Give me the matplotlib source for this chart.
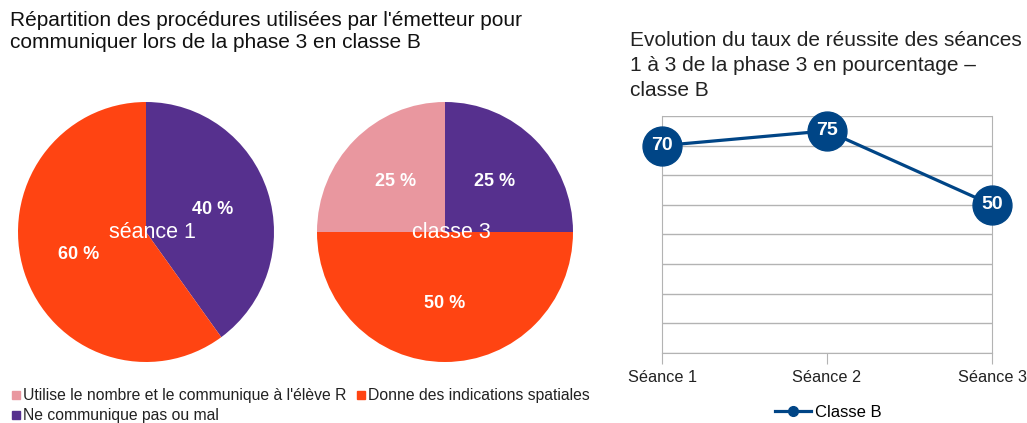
import matplotlib
matplotlib.use("Agg")
import matplotlib.pyplot as plt

plt.rcParams['font.family'] = ['Liberation Sans', 'DejaVu Sans']

# pie data (order: purple, orange, pink; clockwise from top)
pie_labels = ["Ne communique pas ou mal",
              "Donne des indications spatiales",
              "Utilise le nombre et le communique à l'élève R"]
seance1 = [40, 60, 0]
seance3 = [25, 50, 25]
pie_names = ["séance 1", "classe 3"]
pie_colors = ["#56308e", "#ff4412", "#e9979f"]

# line data
seances = ["Séance 1", "Séance 2", "Séance 3"]
taux = [70, 75, 50]
line_color = "#004586"

W, H = 1027, 423
fig = plt.figure(figsize=(W / 100, H / 100), dpi=100)


def px_axes(left, top, width, height):
    return fig.add_axes([left / W, (H - top - height) / H, width / W, height / H])


fig.text(10 / W, 1 - 11 / H,
         "Répartition des procédures utilisées par l'émetteur pour\ncommuniquer lors de la phase 3 en classe B",
         ha='left', va='top', fontsize=15, color='#111111', linespacing=1.2)

pie_pos = [(18, 102), (317, 102)]
for (left, top), vals, name in zip(pie_pos, [seance1, seance3], pie_names):
    ax = px_axes(left, top, 256, 260)
    wedges, texts, autotexts = ax.pie(
        vals, colors=pie_colors, startangle=90, counterclock=False, radius=1,
        autopct=lambda p: "%d %%" % round(p) if p > 0 else "",
        pctdistance=0.55, textprops=dict(color='white', fontsize=13, fontweight='bold'))
    ax.set_xlim(-1, 1)
    ax.set_ylim(-1, 1)
    ax.set_aspect('auto')
    ax.text(0.05, 0, name, ha='center', va='center', color='white', fontsize=15.5)

# legend for pies
leg_items = [(pie_colors[2], pie_labels[2], 12, 395),
             (pie_colors[1], pie_labels[1], 357, 395),
             (pie_colors[0], pie_labels[0], 12, 415)]
for col, lab, x, y in leg_items:
    fig.patches.append(plt.Rectangle((x / W, (H - y - 4) / H), 8 / W, 8 / H,
                                     transform=fig.transFigure, color=col))
    fig.text((x + 11) / W, (H - y) / H, lab, ha='left', va='center',
             fontsize=11.3, color='#222222')

# line chart
fig.text(630 / W, 1 - 31 / H,
         "Evolution du taux de réussite des séances\n1 à 3 de la phase 3 en pourcentage –\nclasse B",
         ha='left', va='top', fontsize=15, color='#222222', linespacing=1.4)

ax = px_axes(662, 116, 330, 237)
x = range(len(seances))
ax.plot(x, taux, color=line_color, lw=2.3, marker='o', markersize=28,
        clip_on=False, zorder=3)
for xi, v in zip(x, taux):
    ax.text(xi, v, str(v), ha='center', va='center', color='white',
            fontsize=14, fontweight='bold', zorder=4)
ax.set_xlim(0, 2)
ax.set_ylim(0, 80)
ax.set_yticks(range(0, 81, 10))
ax.set_yticklabels([])
ax.tick_params(axis='y', length=0)
ax.grid(axis='y', color='#b3b3b3', lw=1)
ax.set_axisbelow(True)
ax.set_xticks(list(x))
ax.set_xticklabels(seances, fontsize=11.7, color='#222222')
ax.tick_params(axis='x', length=8, color='#b3b3b3', pad=4)
for s in ['left', 'right', 'bottom']:
    ax.spines[s].set_color('#b3b3b3')
ax.spines['top'].set_visible(False)

ax.plot([], [], color=line_color, lw=2.3, marker='o', markersize=7, label="Classe B")
ax.legend(loc='center', bbox_to_anchor=(828 / W, (H - 412) / H),
          bbox_transform=fig.transFigure, frameon=False, fontsize=12,
          handlelength=2.2, handletextpad=0.2)

fig.savefig("out.png", dpi=100, facecolor='white')
